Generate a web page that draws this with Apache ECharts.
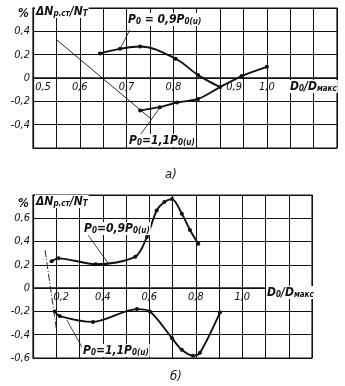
<!DOCTYPE html>
<html>
<head>
<meta charset="utf-8">
<script src="https://cdn.jsdelivr.net/npm/echarts@6/dist/echarts.min.js"></script>
<style>
html, body { margin: 0; padding: 0; background: #fff; }
#c { width: 345px; height: 386px; }
</style>
</head>
<body>
<div id="c"></div>
<script>
// Panel а): deviation of the relative power vs D0/Dмакс
const aX09 = [0.643, 0.686, 0.729, 0.805, 0.853, 0.900];
const aY09 = [0.210, 0.250, 0.270, 0.165, 0.025, -0.078];
const aX11 = [0.729, 0.771, 0.808, 0.853, 0.900, 0.946, 1.000];
const aY11 = [-0.278, -0.250, -0.210, -0.180, -0.078, 0.017, 0.096];
const aBoundX = [0.551, 0.750];
const aBoundY = [0.326, -0.343];
const aLead09X = [0.707, 0.686];
const aLead09Y = [0.410, 0.250];
const aLead11X = [0.729, 0.772];
const aLead11Y = [-0.490, -0.250];
const aTickLabels = ['0,5', '0,6', '0,7', '0,8', '0,9', '1,0'];

// Panel б)
const bX09 = [0.180, 0.210, 0.370, 0.540, 0.590, 0.632, 0.665, 0.698, 0.740, 0.775, 0.811];
const bY09 = [0.230, 0.256, 0.205, 0.270, 0.440, 0.667, 0.740, 0.765, 0.640, 0.500, 0.382];
const bX11 = [0.195, 0.215, 0.358, 0.547, 0.603, 0.698, 0.740, 0.788, 0.818, 0.904];
const bY11 = [-0.200, -0.240, -0.290, -0.180, -0.200, -0.430, -0.530, -0.580, -0.555, -0.210];
const bBoundX = [0.152, 0.203];
const bBoundY = [0.326, -0.386];
const bLead09X = [0.337, 0.423];
const bLead09Y = [0.455, 0.215];
const bLead11X = [0.310, 0.246];
const bLead11Y = [-0.505, -0.275];
const bTickLabels = ['0,2', '0,4', '0,6', '0,8', '1,0'];

const FONT = "'Liberation Sans Narrow', 'DejaVu Sans Condensed', sans-serif";
const INK = '#111';

const pairs = (xs, ys) => xs.map((x, i) => [x, ys[i]]);
const comma = v => {
  const r = Math.round(v * 10) / 10;
  if (r === 0) return '0';
  return String(r).replace('.', ',');
};

const labelBase = {
  color: INK, fontStyle: 'italic', fontFamily: FONT, fontSize: 11
};

// x labels sit just under the zero line, inside the plot frame
function xAxis(gridIndex, min, max, interval, formatter, rich, lift) {
  return {
    type: 'value', gridIndex, min, max, interval,
    axisLine: { show: true, onZero: true, lineStyle: { color: INK, width: 1.6 } },
    axisTick: { show: false },
    axisLabel: Object.assign({ formatter, margin: -lift, rich }, labelBase),
    splitLine: { show: true, lineStyle: { color: INK, width: 1 } }
  };
}

function yAxis(gridIndex, min, max, shown) {
  return {
    type: 'value', gridIndex, min, max, interval: 0.2,
    axisLine: { show: true, lineStyle: { color: INK, width: 1.2 } },
    axisTick: { show: false },
    axisLabel: Object.assign({
      margin: 3,
      formatter: v => {
        const r = Math.round(v * 10) / 10;
        return shown.includes(r) ? comma(r) : '';
      }
    }, labelBase),
    splitLine: { show: true, lineStyle: { color: INK, width: 1 } }
  };
}

const shiftRich = n => Object.assign({ padding: [0, 0, 0, n] }, labelBase);

const aFormatter = v => {
  const k = Math.round(v * 100);
  if (k % 10 !== 0 || k > 100) return '';
  const t = aTickLabels[(k - 50) / 10];
  if (k === 50) return '{s20|' + t + '}';
  if (k === 90) return '{s28|' + t + '}';
  return t;
};
const bFormatter = v => {
  const k = Math.round(v * 10);
  if (k % 2 !== 0 || k > 10 || k < 2) return '';
  const t = bTickLabels[(k - 2) / 2];
  if (k === 2) return '{s10|' + t + '}';
  return t;
};

function curve(xi, data, smooth) {
  return {
    type: 'line', xAxisIndex: xi, yAxisIndex: xi, data,
    smooth,
    symbol: 'circle', symbolSize: 4,
    itemStyle: { color: INK },
    lineStyle: { color: INK, width: 1.9 },
    silent: true, z: 5
  };
}
function thin(xi, data, type, width) {
  return {
    type: 'line', xAxisIndex: xi, yAxisIndex: xi, data,
    symbol: 'none',
    lineStyle: { color: INK, width: width || 0.9, type: type || 'solid' },
    silent: true, z: 4
  };
}

const sub = { fontSize: 8, fontStyle: 'italic', fontFamily: FONT, color: INK, verticalAlign: 'bottom', lineHeight: 14, padding: [5, 0, 0, 0] };
const main = { fontSize: 12, fontStyle: 'italic', fontFamily: FONT, color: INK, verticalAlign: 'bottom', lineHeight: 14 };
const richSet = { a: main, s: sub };

function tag(text, left, top, bg) {
  return {
    text, left, top,
    padding: [0, 1],
    backgroundColor: bg ? '#fff' : 'transparent',
    textStyle: { rich: richSet, fontSize: 12 }
  };
}

const chart = echarts.init(document.getElementById('c'));
chart.setOption({
  animation: false,
  backgroundColor: '#fff',
  grid: [
    { left: 33, top: 8, width: 304, height: 140, show: true, borderColor: INK, borderWidth: 1.2, backgroundColor: 'transparent' },
    { left: 33, top: 195, width: 279, height: 163, show: true, borderColor: INK, borderWidth: 1.2, backgroundColor: 'transparent' }
  ],
  xAxis: [
    xAxis(0, 0.5, 1.15, 0.05, aFormatter, { s20: shiftRich(20), s28: shiftRich(28) }, 66),
    xAxis(1, 0.1, 1.3, 0.1, bFormatter, { s10: shiftRich(10) }, 66)
  ],
  yAxis: [
    yAxis(0, -0.6, 0.6, [-0.4, -0.2, 0, 0.2, 0.4]),
    yAxis(1, -0.6, 0.8, [-0.6, -0.4, -0.2, 0, 0.2, 0.4, 0.6])
  ],
  title: [
    tag('{a|%}', 17, 6, false),
    tag('{a|ΔN}{s|р.ст}{a|/N}{s|T}', 35, 4, true),
    tag('{a|D}{s|0}{a|/D}{s|макс}', 289, 79, true),
    tag('{a|P}{s|0}{a| = 0,9P}{s|0(u)}', 127, 12, true),
    tag('{a|P}{s|0}{a|=1,1P}{s|0(u)}', 128, 133, true),
    { text: 'а)', left: 160, top: 163, textStyle: { fontSize: 13, fontStyle: 'italic', fontFamily: FONT, color: INK, fontWeight: 'normal' } },
    tag('{a|%}', 17, 196, false),
    tag('{a|ΔN}{s|р.ст}{a|/N}{s|T}', 35, 194, true),
    tag('{a|D}{s|0}{a|/D}{s|макс}', 266, 285, true),
    tag('{a|P}{s|0}{a|=0,9P}{s|0(u)}', 83, 221, true),
    tag('{a|P}{s|0}{a|=1,1P}{s|0(u)}', 82, 343, true),
    { text: 'б)', left: 165, top: 365, textStyle: { fontSize: 13, fontStyle: 'italic', fontFamily: FONT, color: INK, fontWeight: 'normal' } }
  ],
  series: [
    thin(0, pairs(aBoundX, aBoundY), 'solid', 0.9),
    thin(0, pairs(aLead09X, aLead09Y), 'solid', 0.8),
    thin(0, pairs(aLead11X, aLead11Y), 'solid', 0.8),
    curve(0, pairs(aX09, aY09), 0.35),
    curve(0, pairs(aX11, aY11), 0.25),
    thin(1, pairs(bBoundX, bBoundY), [7, 2, 1, 2], 0.9),
    thin(1, pairs(bLead09X, bLead09Y), 'solid', 0.8),
    thin(1, pairs(bLead11X, bLead11Y), 'solid', 0.8),
    curve(1, pairs(bX09, bY09), 0.3),
    curve(1, pairs(bX11, bY11), 0.3)
  ]
});
</script>
</body>
</html>
